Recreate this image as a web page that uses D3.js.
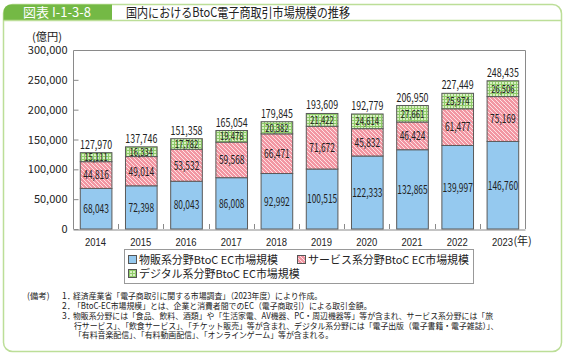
<!DOCTYPE html>
<html><head><meta charset="utf-8">
<script src="https://cdn.jsdelivr.net/npm/d3@7/dist/d3.min.js"></script>
<style>
body{margin:0;background:#fff;}
svg{display:block;font-family:"Noto Sans CJK JP","Noto Sans",sans-serif;}
</style></head>
<body>
<svg id="c" width="566" height="358"></svg>
<script>
const years = ["2014","2015","2016","2017","2018","2019","2020","2021","2022","2023"];
const goods = [68043,72398,80043,86008,92992,100515,122333,132865,139997,146760];
const services = [44816,49014,53532,59568,66471,71672,45832,46424,61477,75169];
const digital = [15111,16334,17782,19478,20382,21422,24614,27661,25974,26506];
const totals = [127970,137746,151358,165054,179845,193609,192779,206950,227449,248435];
const yTicks = [0,50000,100000,150000,200000,250000,300000];
const seriesNames = ["物販系分野BtoC EC市場規模","サービス系分野BtoC EC市場規模","デジタル系分野BtoC EC市場規模"];
const notes = [
 ["1．","経済産業省「電子商取引に関する市場調査」（2023年度）により作成。"],
 ["2．","「BtoC-EC市場規模」とは、企業と消費者間でのEC（電子商取引）による取引金額。"],
 ["3．","物販系分野には「食品、飲料、酒類」や「生活家電、AV機器、PC・周辺機器等」等が含まれ、サービス系分野には「旅"],
 ["","行サービス」、「飲食サービス」、「チケット販売」等が含まれ、デジタル系分野には「電子出版（電子書籍・電子雑誌）」、"],
 ["","「有料音楽配信」、「有料動画配信」、「オンラインゲーム」等が含まれる。"]
];

const svg = d3.select("#c");
const fmt = d3.format(",");
const green = "#74b945", frameC = "#bcde98";

// patterns
const defs = svg.append("defs");
const ph = defs.append("pattern").attr("id","hatch").attr("patternUnits","userSpaceOnUse").attr("width",4).attr("height",4);
ph.append("rect").attr("width",4).attr("height",4).attr("fill","#f296a2");
ph.append("path").attr("d","M-1,-1 L5,5 M-1,3 L1,5 M3,-1 L5,1").attr("stroke","#fde2e5").attr("stroke-width",1);
const pg = defs.append("pattern").attr("id","grid").attr("patternUnits","userSpaceOnUse").attr("width",3).attr("height",3);
pg.append("rect").attr("width",3).attr("height",3).attr("fill","#d8efc3");
pg.append("path").attr("d","M0,0.5 H3 M0.5,0 V3").attr("stroke","#8fcb6a").attr("stroke-width",1);
const fills = ["#95c9ef","url(#hatch)","url(#grid)"];

// frame
svg.append("rect").attr("x",3.5).attr("y",4.5).attr("width",558).attr("height",347).attr("rx",9)
  .attr("fill","#fff").attr("stroke",frameC).attr("stroke-width",1.5);
svg.append("path").attr("d","M3.5,20.5 V13 Q3.5,4.5 12,4.5 H112 V20.5 Z").attr("fill",green);
svg.append("line").attr("x1",3.5).attr("x2",561.5).attr("y1",20.5).attr("y2",20.5).attr("stroke",frameC).attr("stroke-width",1.5);
svg.append("text").attr("x",23).attr("y",17).attr("fill","#fff").attr("font-size",13).text("図表 I-1-3-8");
svg.append("text").attr("x",126).attr("y",17).attr("fill","#222").attr("font-size",13)
  .attr("textLength",224).attr("lengthAdjust","spacingAndGlyphs").text("国内におけるBtoC電子商取引市場規模の推移");

// scales
const x = d3.scaleBand().domain(years).range([73,525]).paddingInner(0.3).paddingOuter(0.15);
const y = d3.scaleLinear().domain([0,300000]).range([229,50]);

// plot frame
const axisC = "#8a8a8a";
svg.append("path").attr("d",`M73.5,${y(0)} V50.5 H525.5 V${y(0)}`).attr("fill","none").attr("stroke",axisC);

// y axis
const ya = svg.append("g").attr("transform","translate(73.5,0)").call(d3.axisLeft(y).tickValues(yTicks).tickFormat(fmt).tickSizeInner(-5).tickSizeOuter(0).tickPadding(6));
ya.select(".domain").remove();
ya.selectAll(".tick line").attr("stroke",axisC);
ya.selectAll(".tick text").attr("font-size",11).attr("fill","#222").attr("font-family","'Noto Sans CJK JP',sans-serif");
ya.selectAll(".tick").filter(d=>d===300000).select("line").remove();

// x axis
const xa = svg.append("g").attr("transform",`translate(0,${y(0)+0.5})`).call(d3.axisBottom(x).tickSize(0).tickPadding(9));
xa.select(".domain").attr("stroke",axisC);
xa.selectAll(".tick text").attr("font-size",11).attr("fill","#222")
  .attr("textLength",21).attr("lengthAdjust","spacingAndGlyphs");
svg.append("g").selectAll("line").data(years.slice(1)).join("line")
  .attr("x1",d=>Math.round(x(d)-x.step()*x.paddingInner()/2)+0.5)
  .attr("x2",d=>Math.round(x(d)-x.step()*x.paddingInner()/2)+0.5)
  .attr("y1",y(0)).attr("y2",y(0)-5).attr("stroke",axisC);
svg.append("text").attr("x",x("2023")+x.bandwidth()/2+11).attr("y",y(0)+15.5).attr("font-size",11).attr("fill","#222").text("(年)");

// y label
svg.append("text").attr("x",32).attr("y",41).attr("font-size",11).attr("fill","#222")
  .attr("textLength",30).attr("lengthAdjust","spacingAndGlyphs").text("(億円)");

// stacked bars
const rows = years.map((yr,i)=>({year:yr, v:[goods[i],services[i],digital[i]], total:totals[i]}));
const bars = svg.append("g");
rows.forEach(r=>{
  let base = 0;
  r.v.forEach((val,k)=>{
    const y0 = y(base), y1 = y(base+val);
    bars.append("rect").attr("x",x(r.year)+0.5).attr("y",y1).attr("width",x.bandwidth()).attr("height",y0-y1)
      .attr("fill",fills[k]).attr("stroke","#5a5a5a").attr("stroke-width",1);
    const g = bars.append("g").attr("transform",`translate(${x(r.year)+0.5+x.bandwidth()/2},${(y0+y1)/2})`);
    g.append("text").attr("transform","scale(0.7,1)").attr("text-anchor","middle").attr("dy","0.36em")
      .attr("font-size",k===2?11:12).attr("fill","#222").text(fmt(val));
    base += val;
  });
  const g = bars.append("g").attr("transform",`translate(${x(r.year)+0.5+x.bandwidth()/2},${y(r.total)-4})`);
  g.append("text").attr("transform","scale(0.74,1)").attr("text-anchor","middle")
    .attr("font-size",12).attr("fill","#222").text(fmt(r.total));
});

// legend
svg.append("rect").attr("x",124.5).attr("y",249.5).attr("width",349).attr("height",34).attr("fill","#fff").attr("stroke","#999");
const legY = [264, 264, 278];
const lt = seriesNames.map(n=>svg.append("text").attr("font-size",11).attr("fill","#222").text(n));
const lw = lt.map(t=>t.node().getComputedTextLength());
const lf = 139/lw[0];
const legX = [139, 469 - lw[1]*lf, 139];
lt.forEach((t,k)=>{
  t.attr("x",legX[k]).attr("y",legY[k]).attr("textLength",lw[k]*lf).attr("lengthAdjust","spacingAndGlyphs");
  svg.append("rect").attr("x",Math.round(legX[k]-10)-0.5).attr("y",legY[k]-8.5).attr("width",8).attr("height",8)
    .attr("fill",fills[k]).attr("stroke","#555");
});

// notes
svg.append("text").attr("x",27).attr("y",299).attr("font-size",8.5).attr("fill","#222").text("(備考)");
const noteY = [299,309,319,328.5,338];
const nt = notes.map((n,i)=>{
  if(n[0]) svg.append("text").attr("x",62).attr("y",noteY[i]).attr("font-size",8.5).attr("fill","#222").text(n[0]);
  return svg.append("text").attr("x",i>=3?74:73).attr("y",noteY[i]).attr("font-size",8.5).attr("fill","#222").text(n[1]);
});
const nw = nt.map(t=>t.node().getComputedTextLength());
const nf = 420/nw[2];
nt.forEach((t,i)=>t.attr("textLength",nw[i]*nf).attr("lengthAdjust","spacingAndGlyphs"));
</script>
</body></html>
